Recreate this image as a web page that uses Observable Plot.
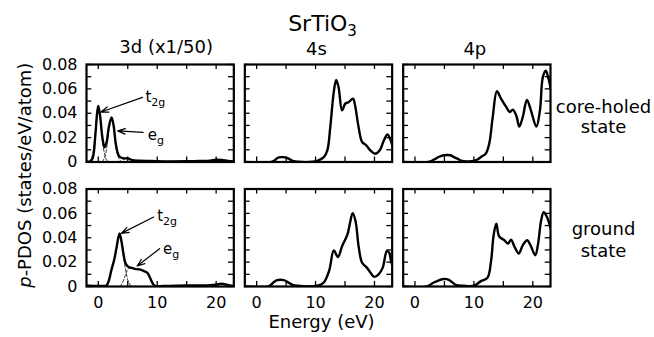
<!DOCTYPE html>
<html><head><meta charset="utf-8">
<script src="https://cdn.jsdelivr.net/npm/d3@7"></script>
<script src="https://cdn.jsdelivr.net/npm/@observablehq/plot@0.6"></script>
<style>
html,body{margin:0;padding:0;background:#fff;}
#chart svg{display:block;}
</style></head><body><div id="chart"></div>
<script>
// ---- categories / labels ----
const panels = ["3d", "4s", "4p"];
const panelTitles = ["3d (x1/50)", "4s", "4p"];
const states = ["core", "ground"];
const stateLabels = ["core-holed\nstate", "ground\nstate"];
const chartTitle = "SrTiO3";
const yLabel = "p-PDOS (states/eV/atom)";
const xLabel = "Energy (eV)";
const xDomain = [-2, 23];
const yDomain = [0, 0.08];
const xTicks = [0, 10, 20];
const xMinorTicks = [0, 5, 10, 15, 20];
const yTicks = [0, 0.02, 0.04, 0.06, 0.08];
const yMinorTicks = [0, 0.01, 0.02, 0.03, 0.04, 0.05, 0.06, 0.07, 0.08];

// ---- series values: [energy (eV), p-PDOS] ----
const core3d = [[-2,0.0005],[-1.3,0.0005],[-0.9,0.004],[-0.5,0.022],[-0.2,0.04],[0,0.046],[0.3,0.038],[0.7,0.02],[1.05,0.012],[1.4,0.016],[1.8,0.029],[2.25,0.0365],[2.6,0.03],[3.0,0.014],[3.5,0.005],[4.2,0.003],[5.0,0.003],[5.8,0.0015],[7,0.001],[9,0.0008],[12,0.0005],[15,0.0006],[17,0.0008],[19,0.001],[20,0.0018],[21,0.0016],[22,0.0008],[23,0.0005]];
const core3dT2g = [[-1.6,0],[-1.1,0.004],[-0.6,0.02],[-0.25,0.038],[0,0.046],[0.35,0.035],[0.7,0.017],[1.1,0.006],[1.5,0.001],[1.9,0]];
const core3dEg = [[0.7,0],[1.1,0.004],[1.5,0.014],[1.9,0.03],[2.25,0.0365],[2.6,0.028],[3.0,0.012],[3.4,0.004],[3.9,0]];
const ground3d = [[-2,0.0008],[-1,0.0004],[0,0.0005],[1,0.0004],[1.4,0.0008],[1.8,0.005],[2.2,0.013],[2.7,0.022],[3.1,0.032],[3.6,0.0436],[3.9,0.038],[4.3,0.026],[4.6,0.0194],[5.0,0.0165],[5.5,0.0154],[6.2,0.0145],[7.0,0.014],[7.6,0.013],[8.3,0.0113],[8.8,0.007],[9.3,0.002],[9.7,0.0003],[11,0.0004],[13,0.0006],[15,0.0008],[17,0.0008],[19,0.001],[20,0.0015],[20.8,0.0022],[21.6,0.0018],[22.3,0.0008],[23,0.0005]];
const ground3dT2g = [[1.4,0.0008],[1.8,0.005],[2.2,0.013],[2.7,0.022],[3.1,0.032],[3.6,0.0436],[3.9,0.037],[4.3,0.024],[4.7,0.012],[5.1,0.004],[5.6,0]];
const ground3dEg = [[3.7,0],[4.1,0.003],[4.5,0.008],[4.9,0.013],[5.3,0.0152],[5.8,0.015],[6.5,0.0143],[7.0,0.014],[7.6,0.013],[8.3,0.0113],[8.8,0.007],[9.3,0.002],[9.7,0.0003]];
const core4s = [[-2,0],[2.5,0],[3.1,0.0015],[3.6,0.0035],[4.2,0.004],[4.9,0.0038],[5.5,0.0025],[6.2,0.0008],[7,0.0002],[9.5,0.0002],[10.4,0.0012],[11.4,0.004],[12.0,0.0096],[12.5,0.0287],[13.1,0.0578],[13.5,0.0674],[13.9,0.0615],[14.5,0.0424],[15.06,0.048],[15.6,0.049],[16.35,0.052],[16.7,0.0465],[17.3,0.0287],[17.9,0.0164],[18.6,0.0137],[19.3,0.0096],[20.1,0.0068],[20.9,0.0096],[21.6,0.0178],[22.2,0.0227],[22.65,0.019],[23,0.014]];
const core4p = [[-2,0],[2.2,0],[2.8,0.0008],[3.5,0.0027],[4.2,0.0045],[4.9,0.0055],[6.0,0.0055],[6.7,0.0038],[7.2,0.0027],[8.0,0.0008],[9,0.0005],[10.0,0.0008],[10.6,0.002],[11.2,0.0041],[12.0,0.0068],[12.6,0.015],[13.2,0.037],[13.9,0.058],[14.6,0.052],[15.5,0.045],[16.1,0.041],[16.6,0.043],[17.2,0.038],[17.7,0.029],[18.3,0.037],[19.0,0.051],[19.7,0.042],[20.6,0.029],[21.2,0.042],[21.7,0.0696],[22.2,0.075],[22.6,0.0696],[23,0.061]];
const ground4s = [[-2,0],[2.1,0.0004],[2.97,0.0038],[3.5,0.0052],[4.6,0.0052],[5.2,0.0038],[6.1,0.0014],[6.9,0.0006],[10.3,0.0006],[11.4,0.0033],[12.3,0.0128],[13.1,0.0296],[13.8,0.0242],[14.5,0.0331],[15.4,0.0426],[15.9,0.0534],[16.3,0.0602],[16.8,0.0534],[17.3,0.0331],[17.9,0.0195],[18.7,0.0155],[19.3,0.0114],[19.97,0.0079],[20.7,0.01],[21.4,0.0155],[22.1,0.029],[22.5,0.0277],[22.8,0.021],[23,0.018]];
const ground4p = [[-2,0],[2.05,0],[3.2,0.0033],[4.9,0.0062],[5.76,0.0054],[6.9,0.0014],[8.3,0.0006],[10.0,0.0006],[11.2,0.0044],[12.3,0.0071],[12.9,0.0203],[13.35,0.042],[13.8,0.0515],[14.3,0.041],[15.2,0.0379],[15.8,0.0352],[16.3,0.0385],[16.9,0.0325],[17.6,0.0271],[18.3,0.0339],[19.05,0.038],[19.6,0.0339],[20.4,0.0257],[20.9,0.0352],[21.4,0.054],[21.85,0.061],[22.4,0.057],[23,0.048]];

// ---- annotations (t2g / eg) ----
const annoText = ["t2g", "eg", "t2g", "eg"];
const annoState = ["core", "core", "ground", "ground"];
const annoTextPos = [[8.0, 0.0535], [8.4, 0.022], [10.0, 0.058], [11.0, 0.0305]];
const annoArrowFrom = [[7.5, 0.053], [7.6, 0.0243], [9.4, 0.057], [10.4, 0.031]];
const annoArrowTo = [[0.45, 0.041], [3.3, 0.0255], [3.9, 0.0436], [6.6, 0.0168]];

// ---- build tables ----
const curves = [
  {panel: "3d", state: "core", kind: "total", pts: core3d},
  {panel: "3d", state: "core", kind: "t2g", pts: core3dT2g},
  {panel: "3d", state: "core", kind: "eg", pts: core3dEg},
  {panel: "3d", state: "ground", kind: "total", pts: ground3d},
  {panel: "3d", state: "ground", kind: "t2g", pts: ground3dT2g},
  {panel: "3d", state: "ground", kind: "eg", pts: ground3dEg},
  {panel: "4s", state: "core", kind: "total", pts: core4s},
  {panel: "4p", state: "core", kind: "total", pts: core4p},
  {panel: "4s", state: "ground", kind: "total", pts: ground4s},
  {panel: "4p", state: "ground", kind: "total", pts: ground4p}
];
const lineData = curves.flatMap(c => c.pts.map(([e, v]) => ({panel: c.panel, state: c.state, kind: c.kind, id: c.panel + c.state + c.kind, e, v})));
const totals = lineData.filter(d => d.kind === "total");
const comps = lineData.filter(d => d.kind !== "total");

const annos = annoText.map((t, i) => ({
  panel: "3d", state: annoState[i], text: t,
  tx: annoTextPos[i][0], ty: annoTextPos[i][1],
  x1: annoArrowFrom[i][0], y1: annoArrowFrom[i][1],
  x2: annoArrowTo[i][0], y2: annoArrowTo[i][1]
}));
const headers = panels.map((p, i) => ({panel: p, state: "core", text: panelTitles[i]}));
const sideLabels = states.map((s, i) => ({panel: "4p", state: s, text: stateLabels[i]}));

// inward tick marks: one row per panel x state x tick; tick length as a fraction of the domain
const cells = panels.flatMap(panel => states.map(state => ({panel, state})));
const yTickRows = cells.flatMap(c => yMinorTicks.map(t => ({...c, t})));
const xTickRows = cells.flatMap(c => xMinorTicks.map(t => ({...c, t})));
const xTickLen = (xDomain[1] - xDomain[0]) * 0.036;
const yTickLen = (yDomain[1] - yDomain[0]) * 0.052;
const tickStyle = {fx: "panel", fy: "state", stroke: "#000", strokeWidth: 1.3};

const chart = Plot.plot({
  width: 654, height: 337,
  marginLeft: 86, marginRight: 104, marginTop: 64, marginBottom: 51,
  style: {fontFamily: "DejaVu Sans", fontSize: "16px", color: "#000", background: "#fff"},
  x: {domain: xDomain},
  y: {domain: yDomain},
  fx: {domain: panels, paddingInner: 0.0696, paddingOuter: 0, round: false, axis: null},
  fy: {domain: states, paddingInner: 0.217, paddingOuter: 0, round: false, axis: null},
  marks: [
    // inward ticks on all four sides of every panel
    Plot.ruleY(yTickRows, {y: "t", x1: xDomain[0], x2: xDomain[0] + xTickLen, ...tickStyle}),
    Plot.ruleY(yTickRows, {y: "t", x1: xDomain[1] - xTickLen, x2: xDomain[1], ...tickStyle}),
    Plot.ruleX(xTickRows, {x: "t", y1: yDomain[1] - yTickLen, y2: yDomain[1], ...tickStyle}),
    Plot.ruleX(xTickRows, {x: "t", y1: yDomain[0], y2: yDomain[0] + yTickLen, ...tickStyle}),
    // tick labels
    Plot.axisY({anchor: "left", ticks: yTicks, tickSize: 0, tickPadding: 9, fontSize: 16,
      tickFormat: d => d === 0 ? "0" : d.toFixed(2), label: null, facetAnchor: "left"}),
    Plot.axisX({anchor: "bottom", ticks: xTicks, tickSize: 0, tickPadding: 10, fontSize: 16,
      tickFormat: d => String(d), label: null, facetAnchor: "bottom"}),
    // curves
    Plot.line(comps, {x: "e", y: "v", z: "id", fx: "panel", fy: "state", stroke: "#000", strokeWidth: 0.8, strokeDasharray: "3,2", curve: "catmull-rom", clip: true}),
    Plot.line(totals, {x: "e", y: "v", z: "id", fx: "panel", fy: "state", stroke: "#000", strokeWidth: 2.4, curve: "catmull-rom", clip: true}),
    Plot.frame({strokeWidth: 2.2}),
    // annotations
    Plot.arrow(annos, {x1: "x1", y1: "y1", x2: "x2", y2: "y2", fx: "panel", fy: "state", stroke: "#000", strokeWidth: 1.2, headLength: 10, headAngle: 40}),
    Plot.text(annos, {x: "tx", y: "ty", fx: "panel", fy: "state", text: "text", textAnchor: "start", fontSize: 15}),
    // panel headers
    Plot.text(headers.filter(d => d.panel === "3d"), {fx: "panel", fy: "state", text: "text", frameAnchor: "top", lineAnchor: "top", dy: -24, dx: 6, fontSize: 18}),
    Plot.text(headers.filter(d => d.panel !== "3d"), {fx: "panel", fy: "state", text: "text", frameAnchor: "top", lineAnchor: "top", dy: -22, dx: -2, fontSize: 18}),
    // title
    Plot.text([{panel: "4s", state: "core", text: chartTitle}], {fx: "panel", fy: "state", text: "text", frameAnchor: "top", lineAnchor: "top", dy: -49, dx: 4, fontSize: 22}),
    // state labels at right
    Plot.text(sideLabels.filter(d => d.state === "core"), {fx: "panel", fy: "state", text: "text", frameAnchor: "right", textAnchor: "middle", dx: 53, dy: 3, lineHeight: 1.12, fontSize: 18}),
    Plot.text(sideLabels.filter(d => d.state === "ground"), {fx: "panel", fy: "state", text: "text", frameAnchor: "right", textAnchor: "middle", dx: 53, dy: 1, lineHeight: 1.25, fontSize: 18}),
    // axis titles
    Plot.text([{panel: "4s", state: "ground", text: xLabel}], {fx: "panel", fy: "state", text: "text", frameAnchor: "bottom", lineAnchor: "top", dy: 29, dx: 3, fontSize: 18}),
    Plot.text([{panel: "3d", state: "core", text: yLabel}], {fx: "panel", fy: "state", text: "text", frameAnchor: "left", rotate: -90, textAnchor: "middle", dx: -61, dy: 62, fontSize: 18})
  ]
});

// subscripts / italic via tspans
const svg = d3.select(chart);
svg.selectAll("text").each(function() {
  const el = d3.select(this);
  if (el.selectAll("tspan").size() > 0) return;
  const t = this.textContent;
  const split = (base, sub, subSize, shift) => {
    el.text(null);
    el.append("tspan").text(base);
    el.append("tspan").attr("font-size", subSize).attr("dy", shift).text(sub);
  };
  if (t === "t2g") split("t", "2g", 11, 4);
  else if (t === "eg") split("e", "g", 11, 4);
  else if (t === "SrTiO3") split("SrTiO", "3", 15, 5);
  else if (t === yLabel) {
    el.text(null);
    el.append("tspan").attr("font-style", "italic").text(yLabel.slice(0, 1));
    el.append("tspan").text(yLabel.slice(1));
  }
});
document.getElementById("chart").appendChild(chart);
</script>
</body></html>
